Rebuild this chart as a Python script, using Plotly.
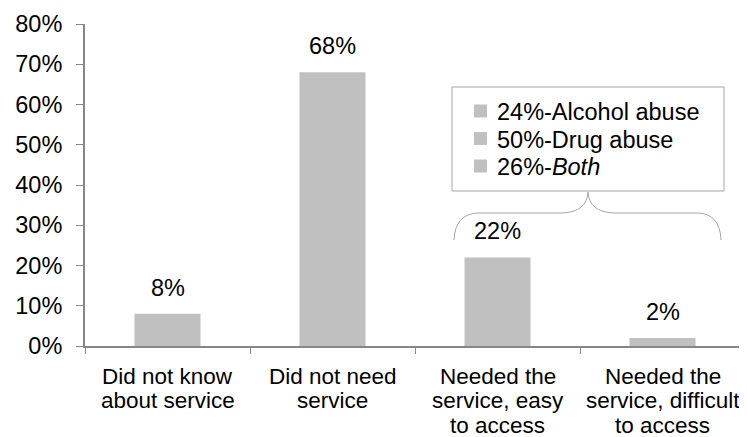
import plotly.graph_objects as go

categories = ["Did not know<br>about service", "Did not need<br>service",
              "Needed the<br>service, easy<br>to access", "Needed the<br>service, difficult<br>to access"]
values = [0.08, 0.68, 0.22, 0.02]
value_labels = ["8%", "68%", "22%", "2%"]
legend_labels = ["24%-Alcohol abuse", "50%-Drug abuse", "26%-<i>Both</i>"]
y_ticks = [0, 0.1, 0.2, 0.3, 0.4, 0.5, 0.6, 0.7, 0.8]
y_tick_text = ["0%", "10%", "20%", "30%", "40%", "50%", "60%", "70%", "80%"]

# page body has an 8px margin; figure is laid out in reference (window) pixels
OFF = 8
W, H = 747 - OFF, 437 - OFF
L, R, T, B = 85 - OFF, 2, 24 - OFF, 437 - 346
pw, ph = W - L - R, H - T - B

def px(x):
    return (x - OFF - L) / pw

def py(y):
    return (H - B - (y - OFF)) / ph

BAR = "#c0c0c0"
AXIS = "#868686"
LINE = "#a6a6a6"
FONT = "Liberation Sans, Arial, sans-serif"
FS = 23.5
FS_CAT = 22.5

fig = go.Figure()
fig.add_trace(go.Bar(x=categories, y=values, marker=dict(color=BAR, line=dict(width=0)),
                     showlegend=False, hoverinfo="skip"))

# value labels above bars
for c, v, t in zip(categories, values, value_labels):
    fig.add_annotation(x=c, y=v, text=t, showarrow=False, yanchor="middle", yshift=26,
                       font=dict(size=FS, color="#000000", family=FONT))

# category labels, one line at a time (tight line spacing)
for c in categories:
    for i, line in enumerate(c.split("<br>")):
        fig.add_annotation(x=c, xref="x", yref="paper", y=py(376 + 24.5 * i), text=line,
                           showarrow=False, yanchor="middle", xanchor="center",
                           font=dict(size=FS_CAT, color="#000000", family=FONT))

# text box with square bullets
fig.add_shape(type="rect", xref="paper", yref="paper", x0=px(452), x1=px(724), y0=py(191), y1=py(87),
              line=dict(color=LINE, width=1), fillcolor="rgba(0,0,0,0)")
for i, name in enumerate(legend_labels):
    yc = 111 + 27.5 * i
    fig.add_shape(type="rect", xref="paper", yref="paper", x0=px(474), x1=px(487),
                  y0=py(yc + 6.5), y1=py(yc - 6.5), line=dict(width=0), fillcolor=BAR)
    fig.add_annotation(xref="paper", yref="paper", x=px(495), y=py(yc + 1), text=name,
                       showarrow=False, xanchor="left", yanchor="middle",
                       font=dict(size=FS, color="#000000", family=FONT))

# brace
def P(x, y):
    return f"{px(x):.5f},{py(y):.5f}"

brace = ("M " + P(454, 240) + " Q " + P(455, 214) + " " + P(478, 213) +
         " L " + P(562, 213) + " Q " + P(587, 212) + " " + P(588, 192) +
         " Q " + P(589, 212) + " " + P(614, 213) +
         " L " + P(698, 213) + " Q " + P(720, 214) + " " + P(721, 240))
fig.add_shape(type="path", xref="paper", yref="paper", path=brace,
              line=dict(color=LINE, width=1))

fig.update_layout(
    width=W, height=H,
    margin=dict(l=L, r=R, t=T, b=B, pad=0, autoexpand=False),
    paper_bgcolor="white", plot_bgcolor="white",
    font=dict(family=FONT, size=FS, color="#000000"),
    bargap=0.6,
    showlegend=False,
    xaxis=dict(showline=True, linecolor=AXIS, linewidth=2, ticks="outside", tickson="boundaries",
               ticklen=6, tickcolor=AXIS, tickwidth=1, showgrid=False, showticklabels=False,
               automargin=False, fixedrange=True),
    yaxis=dict(range=[0, 0.8], tickvals=y_ticks, ticktext=y_tick_text, showline=True,
               linecolor=AXIS, linewidth=2, ticks="outside", ticklen=7, tickcolor=AXIS,
               tickwidth=1, ticklabelstandoff=9, showgrid=False, zeroline=False,
               tickfont=dict(size=FS, family=FONT, color="#000000"),
               automargin=False, fixedrange=True),
)

fig.write_html("out.html")
